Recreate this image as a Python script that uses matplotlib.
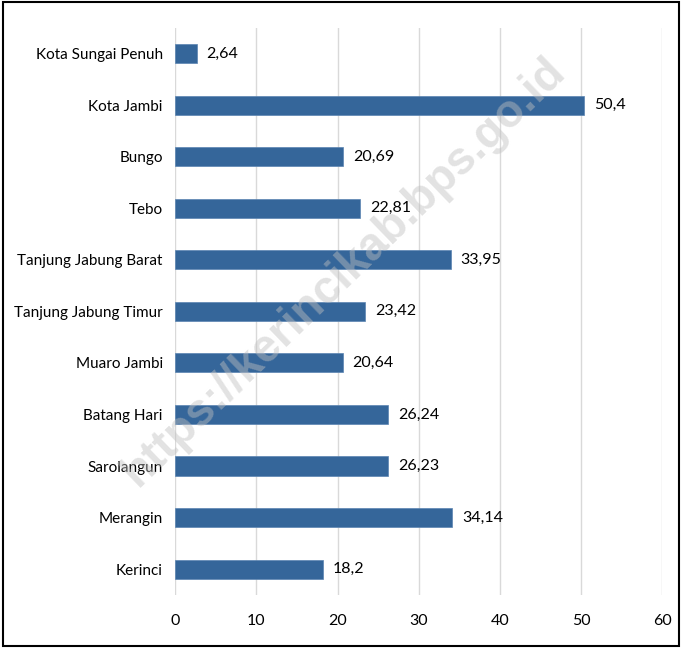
import matplotlib.pyplot as plt
from matplotlib.patches import Rectangle

plt.rcParams['font.family'] = ['Lato', 'DejaVu Sans']

regions = ['Kerinci', 'Merangin', 'Sarolangun', 'Batang Hari', 'Muaro Jambi',
           'Tanjung Jabung Timur', 'Tanjung Jabung Barat', 'Tebo', 'Bungo',
           'Kota Jambi', 'Kota Sungai Penuh']
values = [18.2, 34.14, 26.23, 26.24, 20.64, 23.42, 33.95, 22.81, 20.69, 50.4, 2.64]
xticks = [0, 10, 20, 30, 40, 50, 60]

fig = plt.figure(figsize=(6.82, 6.48), dpi=100)
ax = fig.add_axes([0.257, 0.082, 0.714, 0.875])

pos = range(len(regions))
ax.barh(pos, values, height=0.37, color='#35669a', edgecolor='#5b84b1', linewidth=0.5, zorder=3)
for p, v in zip(pos, values):
    ax.text(v + 1.2, p, f'{v:g}'.replace('.', ','), va='center', ha='left', fontsize=11.5, zorder=4)

ax.set_xlim(0, 60)
ax.set_ylim(-0.5, len(regions) - 0.5)
ax.set_xticks(xticks)
ax.set_yticks(list(pos))
ax.set_yticklabels(regions)
ax.tick_params(length=0, labelsize=11.5)
ax.tick_params(axis='y', labelsize=11, pad=9)
ax.tick_params(axis='x', pad=14)
ax.grid(axis='x', color='#d9d9d9', linewidth=1, zorder=0)
for s in ax.spines.values():
    s.set_visible(False)

# watermark
fig.text(0.505, 0.58, 'https://kerincikab.bps.go.id', rotation=44, ha='center', va='center',
         fontsize=33, fontweight='bold', color='#c0c0c0', alpha=0.45,
         family=['Liberation Sans', 'DejaVu Sans'], zorder=5)

# outer frame
fig.patches.append(Rectangle((0.004, 0.003), 0.992, 0.994, transform=fig.transFigure,
                             fill=False, edgecolor='black', linewidth=1.5))

fig.savefig('out.png', dpi=100)
